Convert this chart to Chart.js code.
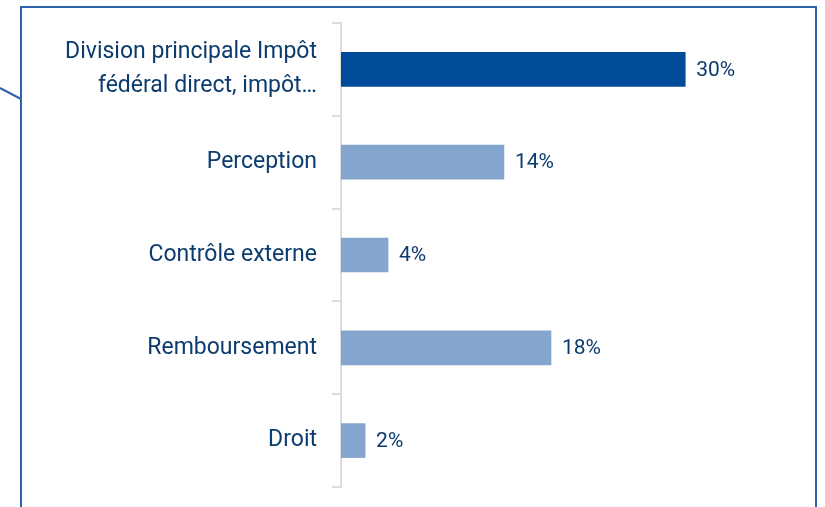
<!DOCTYPE html>
<html>
<head>
<meta charset="utf-8">
<script src="https://cdn.jsdelivr.net/npm/chart.js@4"></script>
<style>
  html, body { margin: 0; padding: 0; background: #fff; }
  #wrap { position: relative; width: 825px; height: 507px; overflow: hidden; }
  #frame {
    position: absolute; left: 20px; top: 6px; width: 797px; height: 520px;
    border: 2px solid #2f64ad; border-bottom: none; box-sizing: border-box;
  }
  #deco { position: absolute; left: 0; top: 0; }
  canvas { position: absolute; left: 0; top: 0; }
</style>
</head>
<body>
<div id="wrap">
  <div id="frame"></div>
  <svg id="deco" width="825" height="507"><line x1="0" y1="88" x2="21" y2="99" stroke="#2f64ad" stroke-width="2"/></svg>
  <canvas id="chart" width="825" height="507"></canvas>
</div>
<script>
// categories and values
const categories = [
  ['Division principale Impôt', 'fédéral direct, impôt…'],
  'Perception',
  'Contrôle externe',
  'Remboursement',
  'Droit',
];
const shares = [30, 14.2, 4.1, 18.3, 2.1];
const barColors = ['#004b9a', '#84a5cd', '#84a5cd', '#84a5cd', '#84a5cd'];

const textColor = '#0c3b6e';

// draws the "xx%" text right of each bar
const valueLabels = {
  id: 'valueLabels',
  afterDatasetsDraw(chart) {
    const ctx = chart.ctx;
    const meta = chart.getDatasetMeta(0);
    ctx.save();
    ctx.fillStyle = textColor;
    ctx.font = '21px Roboto';
    ctx.textAlign = 'left';
    ctx.textBaseline = 'middle';
    meta.data.forEach((bar, i) => {
      ctx.fillText(Math.round(shares[i]) + '%', bar.x + 11, bar.y + 1);
    });
    ctx.restore();
  }
};

const ctx = document.getElementById('chart').getContext('2d');
const chart = new Chart(ctx, {
  type: 'bar',
  data: {
    labels: categories,
    datasets: [{ data: shares, backgroundColor: barColors, barThickness: 34 }],
  },
  options: {
    indexAxis: 'y',
    responsive: false,
    animation: false,
    devicePixelRatio: 1,
    layout: { padding: { top: 23, bottom: 20, left: 0, right: 25 } },
    plugins: { legend: { display: false }, tooltip: { enabled: false } },
    scales: {
      x: { min: 0, max: 40, display: false },
      y: {
        afterFit(scale) {
          scale.width = 341;
          scale.paddingTop = 0;
          scale.paddingBottom = 0;
        },
        grid: { drawOnChartArea: false, tickLength: 9, color: '#dcdcdc', lineWidth: 2 },
        border: { color: '#dcdcdc', width: 2 },
        ticks: { color: textColor, padding: 15, font: { family: 'Roboto', size: 23, lineHeight: 1.45 } },
      },
    },
  },
  plugins: [valueLabels],
});
</script>
</body>
</html>
